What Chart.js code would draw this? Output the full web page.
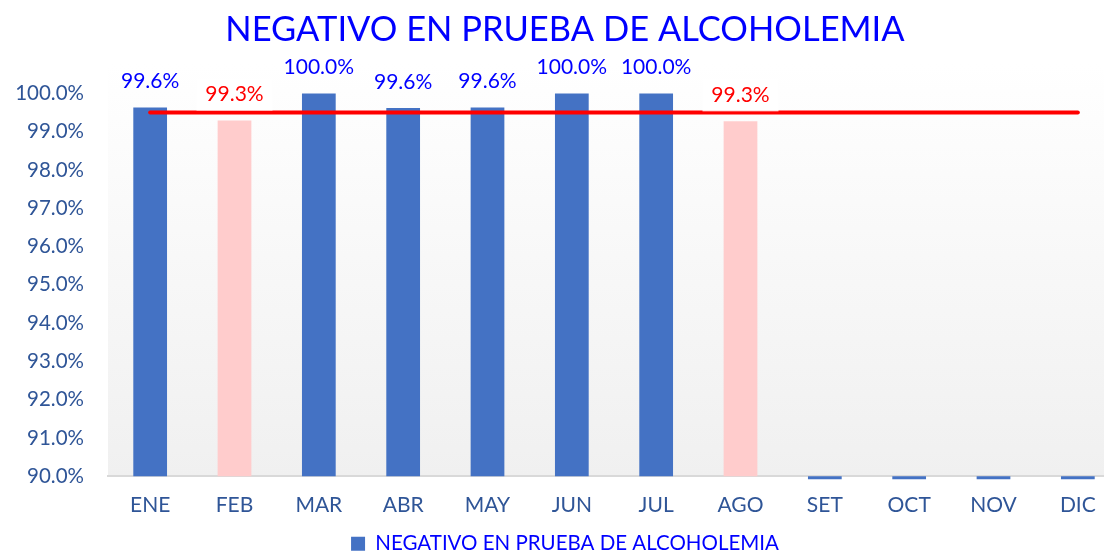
<!DOCTYPE html>
<html>
<head>
<meta charset="utf-8">
<script src="https://cdn.jsdelivr.net/npm/chart.js@4/dist/chart.umd.min.js"></script>
<style>
  html, body { margin: 0; padding: 0; background: #ffffff; overflow: hidden; }
  #wrap { position: relative; width: 1120px; height: 553px; }
</style>
</head>
<body>
<div id="wrap"><canvas id="c"></canvas></div>
<script>
const categories = ['ENE','FEB','MAR','ABR','MAY','JUN','JUL','AGO','SET','OCT','NOV','DIC'];
const values = [99.63, 99.29, 100, 99.62, 99.63, 100, 100, 99.27, 0, 0, 0, 0];
const goalValues = [99.5, 99.5, 99.5, 99.5, 99.5, 99.5, 99.5, 99.5, 99.5, 99.5, 99.5, 99.5];
const yTicks = [90, 91, 92, 93, 94, 95, 96, 97, 98, 99, 100];
const titleText = 'NEGATIVO EN PRUEBA DE ALCOHOLEMIA';
const seriesName = 'NEGATIVO EN PRUEBA DE ALCOHOLEMIA';
const GOAL = 99.5;
const Y_MIN = 90;

const FONT = 'Lato, "Open Sans", sans-serif';
const BLUE_BAR = '#4472C4';
const PINK_BAR = '#FFCCCC';
const TICK_COLOR = '#2F5597';

const bgPlugin = {
  id: 'bgGrad',
  beforeDraw(chart) {
    const { ctx, chartArea: a } = chart;
    const g = ctx.createLinearGradient(0, a.top - 30, 0, a.bottom);
    g.addColorStop(0, '#ffffff');
    g.addColorStop(1, '#f0f0f0');
    ctx.save();
    ctx.fillStyle = g;
    ctx.fillRect(a.left, a.top - 30, a.right - a.left, a.bottom - a.top + 30);
    ctx.restore();
  }
};

const labelPlugin = {
  id: 'barLabels',
  afterDatasetsDraw(chart) {
    const { ctx } = chart;
    const meta = chart.getDatasetMeta(0);
    ctx.save();
    ctx.font = '21px ' + FONT;
    ctx.textAlign = 'center';
    ctx.textBaseline = 'middle';
    meta.data.forEach((bar, i) => {
      const v = values[i];
      if (v < Y_MIN) return;
      const x = bar.x;
      const y = bar.y - 26;
      const below = v < GOAL;
      if (below) {
        ctx.fillStyle = 'rgba(255,255,255,0.8)';
        ctx.fillRect(x - 38, y - 16, 76, 32);
      }
      ctx.fillStyle = below ? '#FF0000' : '#0000FF';
      ctx.fillText(v.toFixed(1) + '%', x, y);
    });
    ctx.restore();
  }
};

new Chart(document.getElementById('c'), {
  data: {
    labels: categories,
    datasets: [
      {
        type: 'bar',
        label: seriesName,
        data: values,
        base: Y_MIN,
        backgroundColor: (c) => (c.raw !== undefined && c.raw >= Y_MIN && c.raw < GOAL) ? PINK_BAR : BLUE_BAR,
        borderWidth: 0,
        barPercentage: 0.4,
        categoryPercentage: 1,
        clip: { left: 0, top: 10, right: 0, bottom: 3 },
        order: 2
      },
      {
        type: 'line',
        label: 'Meta',
        data: goalValues,
        borderColor: '#FF0000',
        borderWidth: 4,
        borderCapStyle: 'round',
        pointRadius: 0,
        pointHoverRadius: 0,
        fill: false,
        order: 1
      }
    ]
  },
  options: {
    responsive: true,
    maintainAspectRatio: false,
    animation: false,
    layout: { padding: { left: 10, right: 0, top: 0, bottom: -11 } },
    plugins: {
      title: {
        display: true,
        text: titleText,
        color: '#0000FF',
        font: { family: FONT, size: 34.5, weight: 'normal' },
        padding: { top: 9, bottom: 43 }
      },
      legend: {
        position: 'bottom',
        labels: {
          filter: (item) => item.datasetIndex === 0,
          color: '#0000FF',
          font: { family: FONT, size: 20.5 },
          boxWidth: 14,
          boxHeight: 14,
          padding: 0
        }
      },
      tooltip: { enabled: false }
    },
    scales: {
      x: {
        offset: true,
        grid: { display: false, drawTicks: false },
        border: { display: true, color: '#D9D9D9', width: 2 },
        ticks: { color: TICK_COLOR, font: { family: FONT, size: 21 }, padding: 16 }
      },
      y: {
        min: Y_MIN,
        max: 100,
        afterBuildTicks: (s) => { s.ticks = yTicks.map(v => ({ value: v })); },
        afterFit: (s) => { s.width = 98; },
        grid: { display: false, drawTicks: false },
        border: { display: false },
        ticks: {
          color: TICK_COLOR,
          font: { family: FONT, size: 20.5 },
          padding: 24,
          callback: (v) => Number(v).toFixed(1) + '%'
        }
      }
    }
  },
  plugins: [bgPlugin, labelPlugin]
});
</script>
</body>
</html>
